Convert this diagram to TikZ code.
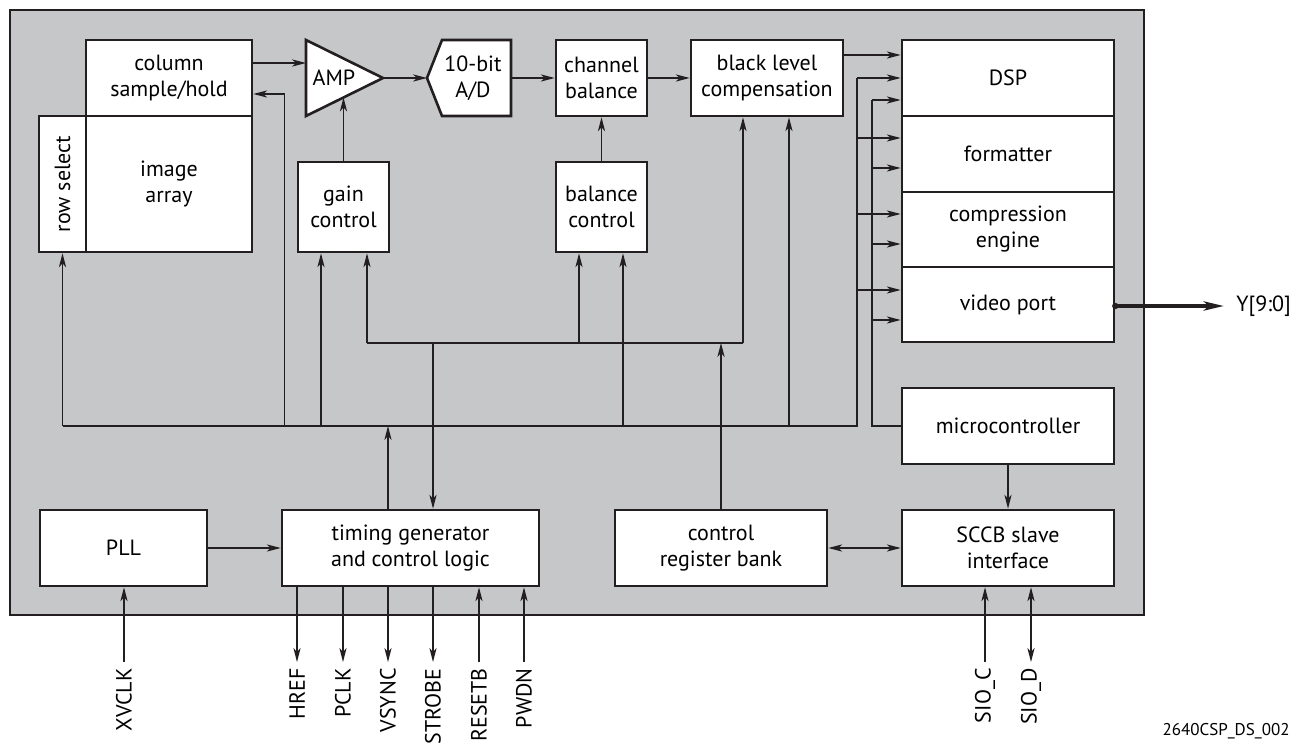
\documentclass[tikz,border=0pt]{standalone}
\usepackage{fontspec}
\setmainfont{PT Sans}
\usetikzlibrary{arrows.meta,positioning,calc}
\definecolor{cInk}{HTML}{231F20}
\definecolor{cChip}{HTML}{C6C7C9}
\newcommand{\blkfont}{\fontsize{11}{13}\selectfont}
\tikzset{
  blk/.style={draw=cInk,line width=1.3pt,fill=white,align=center,
              inner sep=0pt,font=\blkfont},
  lbl/.style={align=center,inner sep=0pt,font=\blkfont},
  sig/.style={-{Stealth[length=7pt,width=3.6pt,inset=2pt]},line width=0.65pt,cInk},
  bidir/.style={{Stealth[length=7pt,width=3.6pt,inset=2pt]}-{Stealth[length=7pt,width=3.6pt,inset=2pt]},
                line width=0.65pt,cInk},
  bus/.style={line width=0.65pt,cInk},
  wide/.style={-{Stealth[length=10pt,width=4.5pt,inset=2.5pt]},line width=2pt,cInk},
  pin/.style={rotate=90,anchor=east,inner sep=0pt,font=\blkfont},
}

\begin{document}
\begin{tikzpicture}[x=0.5pt,y=-0.5pt]
  \useasboundingbox (0,0) rectangle (1302,748);
  \draw[cInk,line width=1pt,fill=cChip] (10,10) rectangle (1144,615);
  % sensor array
  \node[blk,minimum width=83pt,minimum height=38pt](csh) at (169,78){column\\sample/hold};
  \node[blk,minimum width=83pt,minimum height=68pt](img) at (169,184){image\\array};
  \node[blk,minimum width=23.5pt,minimum height=68pt](rsel) at (62.5,184){};
  \node[lbl,rotate=90](rsellbl) at (rsel.center){row select};
  % analog chain
  \draw[cInk,line width=1.3pt,fill=white] (306,40) coordinate(ampA) -- (383,78) coordinate(ampT)
    -- (306,116) coordinate(ampB) -- cycle;
  \node[lbl](amp) at (334,78){AMP};
  \coordinate (ampIn) at (306,63);
  \coordinate (ampG) at ($(ampB)!0.487!(ampT)$);
  \draw[cInk,line width=1.3pt,fill=white] (427,78) coordinate(adcP) -- (442,40) -- (511,40)
    -- (511,116) -- (442,116) -- cycle;
  \coordinate (adcE) at (511,78);
  \node[lbl](adc) at (473,78){10-bit\\A/D};
  \node[blk,minimum width=45.5pt,minimum height=38pt](chb) at (601.5,78){channel\\balance};
  \node[blk,minimum width=76pt,minimum height=38pt](blc) at (767,78){black level\\compensation};
  \node[blk,minimum width=45.5pt,minimum height=45pt](gain) at (343.5,207){gain\\control};
  \node[blk,minimum width=45.5pt,minimum height=45pt](balc) at (601.5,207){balance\\control};
  % output stack
  \node[blk,minimum width=106pt,minimum height=38pt](dsp) at (1008,78){DSP};
  \node[blk,minimum width=106pt,minimum height=38pt](fmt) at (1008,154){formatter};
  \node[blk,minimum width=106pt,minimum height=37.5pt](cmp) at (1008,229.5){compression\\engine};
  \node[blk,minimum width=106pt,minimum height=37.5pt](vp) at (1008,304.5){video port};
  \node[blk,minimum width=106pt,minimum height=38pt](mcu) at (1008,426){microcontroller};
  % bottom row
  \node[blk,minimum width=83.5pt,minimum height=38pt](pll) at (123.5,548){PLL};
  \node[blk,minimum width=128.5pt,minimum height=38pt](tim) at (410.5,548){timing generator\\and control logic};
  \node[blk,minimum width=106pt,minimum height=38pt](crb) at (721,548){control\\register bank};
  \node[blk,minimum width=106pt,minimum height=38pt](sccb) at (1008,548){SCCB slave\\interface};
  \node[lbl,anchor=west](yout) at (1236,306){Y[9:0]};

  % data path
  \draw[sig] (csh.east |- ampIn) -- (ampIn);
  \draw[sig] (ampT) -- (adcP);
  \draw[sig] (adcE) -- (chb.west);
  \draw[sig] (chb.east) -- (blc.west);
  \draw[sig] (gain.north) -- (gain.north |- ampG);
  \draw[sig] (balc.north) -- (chb.south);
  \draw[sig] ([yshift=11.5pt]blc.east) -- ([yshift=11.5pt]blc.east -| dsp.west);

  % lower control bus
  \coordinate (busL) at (63,426);
  \coordinate (busR) at (857,426);
  \coordinate (feedB) at (872,426);
  \draw[bus] (busL) -- (busR) -- (busR |- dsp.west);
  \draw[bus] (mcu.west) -- (feedB) -- (feedB |- 0,100);
  \draw[sig] (rsel.south |- busL) -- (rsel.south);
  \draw[sig] ([xshift=15.5pt]csh.east |- busL) |- ([yshift=-8pt]csh.east);
  \draw[sig] ([xshift=-11.25pt]gain.south |- busL) -- ([xshift=-11.25pt]gain.south);
  \draw[sig] ([xshift=10.75pt]balc.south |- busL) -- ([xshift=10.75pt]balc.south);
  \draw[sig] ([xshift=11pt]blc.south |- busL) -- ([xshift=11pt]blc.south);
  \draw[sig] ([xshift=-11.25pt]tim.north) -- ([xshift=-11.25pt]tim.north |- busL);
  \foreach \y in {78,138,214,290} \draw[sig] (busR |- 0,\y) -- (dsp.west |- 0,\y);
  \foreach \y in {100,168,244,320} \draw[sig] (feedB |- 0,\y) -- (dsp.west |- 0,\y);

  % upper register bus
  \coordinate (ubL) at (367,343);
  \coordinate (ubR) at (743,343);
  \draw[bus] (ubL) -- (ubR);
  \draw[sig] (ubL) -- (ubL |- gain.south);
  \draw[sig] ([xshift=-11.25pt]balc.south |- ubL) -- ([xshift=-11.25pt]balc.south);
  \draw[sig] (ubR) -- (ubR |- blc.south);
  \draw[sig] ([xshift=11.25pt]tim.north |- ubL) -- ([xshift=11.25pt]tim.north);
  \draw[sig] (crb.north) -- (crb.north |- ubL);

  % bottom links
  \draw[sig] (pll.east) -- (tim.west);
  \draw[bidir] (crb.east) -- (sccb.west);
  \draw[sig] (mcu.south) -- (sccb.north);
  \fill[cInk] ([yshift=-0.75pt]vp.east) circle (1.6pt);
  \draw[wide] ([yshift=-0.75pt]vp.east) -- ([xshift=-6pt]yout.west);

  % pins
  \node[pin](xvclk) at (124,668){XVCLK};
  \node[pin](href) at (297,668){HREF};
  \node[pin](pclk) at (343,668){PCLK};
  \node[pin](vsync) at (388,668){VSYNC};
  \node[pin](strobe) at (433,668){STROBE};
  \node[pin](resetb) at (479,668){RESETB};
  \node[pin](pwdn) at (524,668){PWDN};
  \node[pin](sioc) at (985,668){SIO\_C};
  \node[pin](siod) at (1031,668){SIO\_D};
  \draw[sig] ([yshift=3pt]xvclk.east) -- (xvclk.east |- pll.south);
  \foreach \p in {href,pclk,vsync,strobe}
    \draw[sig] (\p.east |- tim.south) -- ([yshift=3pt]\p.east);
  \foreach \p in {resetb,pwdn}
    \draw[sig] ([yshift=3pt]\p.east) -- (\p.east |- tim.south);
  \draw[sig] ([yshift=3pt]sioc.east) -- (sioc.east |- sccb.south);
  \draw[bidir] ([yshift=3pt]siod.east) -- (siod.east |- sccb.south);

  \node[anchor=east,inner sep=0pt,font=\fontsize{8.5}{10}\selectfont](tag) at (1290,731){2640CSP\_DS\_002};
\end{tikzpicture}
\end{document}
